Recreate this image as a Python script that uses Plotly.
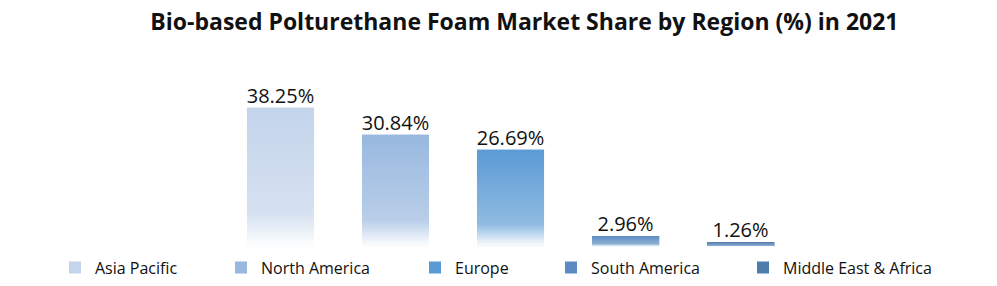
import plotly.graph_objects as go

regions = ["Asia Pacific", "North America", "Europe", "South America", "Middle East & Africa"]
shares = [38.25, 30.84, 26.69, 2.96, 1.26]
labels = ["38.25%", "30.84%", "26.69%", "2.96%", "1.26%"]
top_colors = ["#c3d4eb", "#98b8df", "#5b9bd5", "#5a8cc1", "#4d7cad"]
legend_x = [55, 221, 415, 551, 743]  # pixel positions of legend entries

N = 60


def hex2rgb(h):
    h = h.lstrip("#")
    return tuple(int(h[i:i + 2], 16) for i in (0, 2, 4))


def mix(c, w):
    r, g, b = c
    return (r + (255 - r) * w, g + (255 - g) * w, b + (255 - b) * w)


def grad_color(c, t):
    # t: 0 bottom -> 1 top
    if t >= 0.22:
        w = 0.32 * (1 - t) / 0.78
    else:
        w = 0.32 + (0.97 - 0.32) * (0.22 - t) / 0.22
    r, g, b = mix(c, w)
    return f"rgb({int(r)},{int(g)},{int(b)})"


W, H = 997, 286
fig = go.Figure()
for i, (reg, v, col) in enumerate(zip(regions, shares, top_colors)):
    c = hex2rgb(col)
    ks = list(range(N - 1, -1, -1))
    seg = v / N
    # segments overlap slightly upward to avoid anti-aliasing seams
    fig.add_trace(go.Bar(
        x=[i] * N,
        y=[min(seg * 2.0, v - seg * k) for k in ks],
        base=[seg * k for k in ks],
        width=0.583,
        marker=dict(color=[grad_color(c, (k + 0.5) / N) for k in ks], line=dict(width=0)),
        name=reg,
        showlegend=True,
        legend="legend" if i == 0 else f"legend{i + 1}",
        hoverinfo="skip",
    ))

fig.add_trace(go.Scatter(
    x=list(range(len(regions))),
    y=shares,
    text=labels,
    mode="text",
    textposition="top center",
    textfont=dict(size=20, color="#111111", family="Open Sans"),
    showlegend=False,
    hoverinfo="skip",
))

legend_font = dict(size=16, color="#111111", family="Open Sans")
layout_legends = {}
for i, lx in enumerate(legend_x):
    key = "legend" if i == 0 else f"legend{i + 1}"
    layout_legends[key] = dict(
        orientation="h",
        x=lx / W,
        xanchor="left",
        y=-0.02,
        yanchor="top",
        font=legend_font,
        itemwidth=30,
        bgcolor="rgba(0,0,0,0)",
    )

fig.update_layout(
    width=W,
    height=H,
    barmode="overlay",
    paper_bgcolor="white",
    plot_bgcolor="white",
    margin=dict(l=0, r=0, t=65, b=39),
    title=dict(
        text="<b>Bio-based Polturethane Foam Market Share by Region (%) in 2021</b>",
        x=0.526,
        xanchor="center",
        y=0.925,
        yanchor="middle",
        font=dict(size=23, color="#111111", family="Open Sans"),
    ),
    xaxis=dict(range=[-2.439, 6.230], visible=False, fixedrange=True),
    yaxis=dict(range=[0, 50], visible=False, fixedrange=True),
    showlegend=True,
    **layout_legends,
)

fig.write_html("out.html")
